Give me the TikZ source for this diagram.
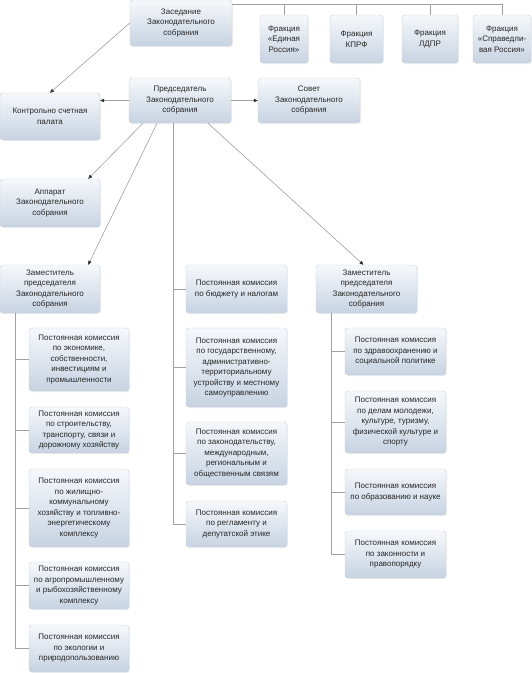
\documentclass[tikz,border=0pt]{standalone}
\usepackage{fontspec}
\setmainfont{Liberation Sans}
\usetikzlibrary{arrows.meta,shadows}

\definecolor{boxtop}{HTML}{F6F8FB}
\definecolor{boxbot}{HTML}{C7D3E2}
\definecolor{boxline}{HTML}{C9CED6}
\definecolor{linkgray}{HTML}{A0A0A0}
\definecolor{txt}{HTML}{262626}

\tikzset{
  orgbox/.style={rounded corners=3pt, draw=boxline, top color=boxtop, bottom color=boxbot,
    align=center, inner sep=1pt, text=txt, font=\fontsize{8}{10.5}\selectfont,
    drop shadow={opacity=0.12, shadow xshift=1pt, shadow yshift=-1pt}},
  sz/.style 2 args={minimum width=#1, minimum height=#2},
  link/.style={draw=linkgray, line width=0.6pt},
  arr/.style={link, -{Triangle[length=4pt,width=3.5pt,color=black!80,fill=black!80]}},
}

\begin{document}
\begin{tikzpicture}[x=1pt, y=-1pt]
\useasboundingbox (0,0) rectangle (532,673);

% top row
\node[orgbox, sz={102pt}{46pt}] (zas) at (181,23) {Заседание\\Законодательного\\собрания};
\node[orgbox, sz={48pt}{48pt}] (fer) at (284,39) {Фракция\\«Единая\\Россия»};
\node[orgbox, sz={53pt}{48pt}] (fkprf) at (356.5,39) {Фракция\\КПРФ};
\node[orgbox, sz={56pt}{48pt}] (fldpr) at (430,39) {Фракция\\ЛДПР};
\node[orgbox, sz={58pt}{48pt}] (fsr) at (502,39) {Фракция\\«Справедли-\\вая Россия»};

% chairman level
\node[orgbox, sz={102pt}{45pt}] (pred) at (180,100.5) {Председатель\\Законодательного\\собрания};
\node[orgbox, sz={100pt}{47pt}] (ksp) at (50,116.5) {Контрольно счетная\\палата};
\node[orgbox, sz={102pt}{45pt}] (sovet) at (309,100.5) {Совет\\Законодательного\\собрания};
\node[orgbox, sz={100pt}{48pt}] (app) at (50,203) {Аппарат\\Законодательного\\собрания};
\node[orgbox, sz={100pt}{48pt}] (zam1) at (50,289) {Заместитель\\председателя\\Законодательного\\собрания};
\node[orgbox, sz={101pt}{48pt}] (zam2) at (366.5,289) {Заместитель\\председателя\\Законодательного\\собрания};

% center column
\node[orgbox, sz={101pt}{48pt}] (c1) at (236.5,289) {Постоянная комиссия\\по бюджету и налогам};
\node[orgbox, sz={101pt}{79pt}] (c2) at (236.5,367.5) {Постоянная комиссия\\по государственному,\\административно-\\территориальному\\устройству и местному\\самоуправлению};
\node[orgbox, sz={101pt}{63pt}] (c3) at (236.5,453.5) {Постоянная комиссия\\по законодательству,\\международным,\\региональным и\\общественным связям};
\node[orgbox, sz={101pt}{46pt}] (c4) at (236.5,524) {Постоянная комиссия\\по регламенту и\\депутатской этике};

% right column
\node[orgbox, sz={101pt}{47pt}] (r1) at (395.5,351.5) {Постоянная комиссия\\по здравоохранению и\\социальной политике};
\node[orgbox, sz={101pt}{62pt}] (r2) at (395.5,422) {Постоянная комиссия\\по делам молодежи,\\культуре, туризму,\\физической культуре и\\спорту};
\node[orgbox, sz={101pt}{46pt}] (r3) at (395.5,492) {Постоянная комиссия\\по образованию и науке};
\node[orgbox, sz={101pt}{47pt}] (r4) at (395.5,554.5) {Постоянная комиссия\\по законности и\\правопорядку};

% left column
\node[orgbox, sz={100pt}{63pt}] (l1) at (79,359.5) {Постоянная комиссия\\по экономике,\\собственности,\\инвестициям и\\промышленности};
\node[orgbox, sz={100pt}{46pt}] (l2) at (79,430) {Постоянная комиссия\\по строительству,\\транспорту, связи и\\дорожному хозяйству};
\node[orgbox, sz={100pt}{78pt}] (l3) at (79,508) {Постоянная комиссия\\по жилищно-\\коммунальному\\хозяйству и топливно-\\энергетическому\\комплексу};
\node[orgbox, sz={100pt}{47pt}] (l4) at (79,585.5) {Постоянная комиссия\\по агропромышленному\\и рыбохозяйственному\\комплексу};
\node[orgbox, sz={100pt}{47pt}] (l5) at (79,648.5) {Постоянная комиссия\\по экологии и\\природопользованию};

% factions bus
\coordinate (fbus) at (502,4);
\draw[link] (zas.east |- fbus) -- (fbus) -- (fsr.north);
\foreach \f in {fer,fkprf,fldpr}
  \draw[link] (\f.north) -- (\f.north |- fbus);

% arrows
\draw[arr] (zas.west) -- (ksp.north);
\draw[arr] (pred.west) -- (pred.west -| ksp.east);
\draw[arr] (pred.east) -- (sovet.west);
\draw[arr] ([xshift=-37pt]pred.south) -- ([xshift=-12pt]app.north east);
\draw[arr] ([xshift=-23pt]pred.south) -- ([xshift=-12pt]zam1.north east);
\draw[arr] ([xshift=28pt]pred.south) -- ([xshift=-3pt]zam2.north);

% commission buses
\coordinate (cbus) at ([xshift=-7pt]pred.south);
\draw[link] (cbus) |- (c4.west);
\foreach \c in {c1,c2,c3}
  \draw[link] (\c.west) -- (\c.west -| cbus);

\coordinate (lbus) at ([xshift=15pt]zam1.south west);
\draw[link] (lbus) |- (l5.west);
\foreach \l in {l1,l2,l3,l4}
  \draw[link] (\l.west) -- (\l.west -| lbus);

\coordinate (rbus) at ([xshift=15pt]zam2.south west);
\draw[link] (rbus) |- (r4.west);
\foreach \r in {r1,r2,r3}
  \draw[link] (\r.west) -- (\r.west -| rbus);
\end{tikzpicture}
\end{document}
